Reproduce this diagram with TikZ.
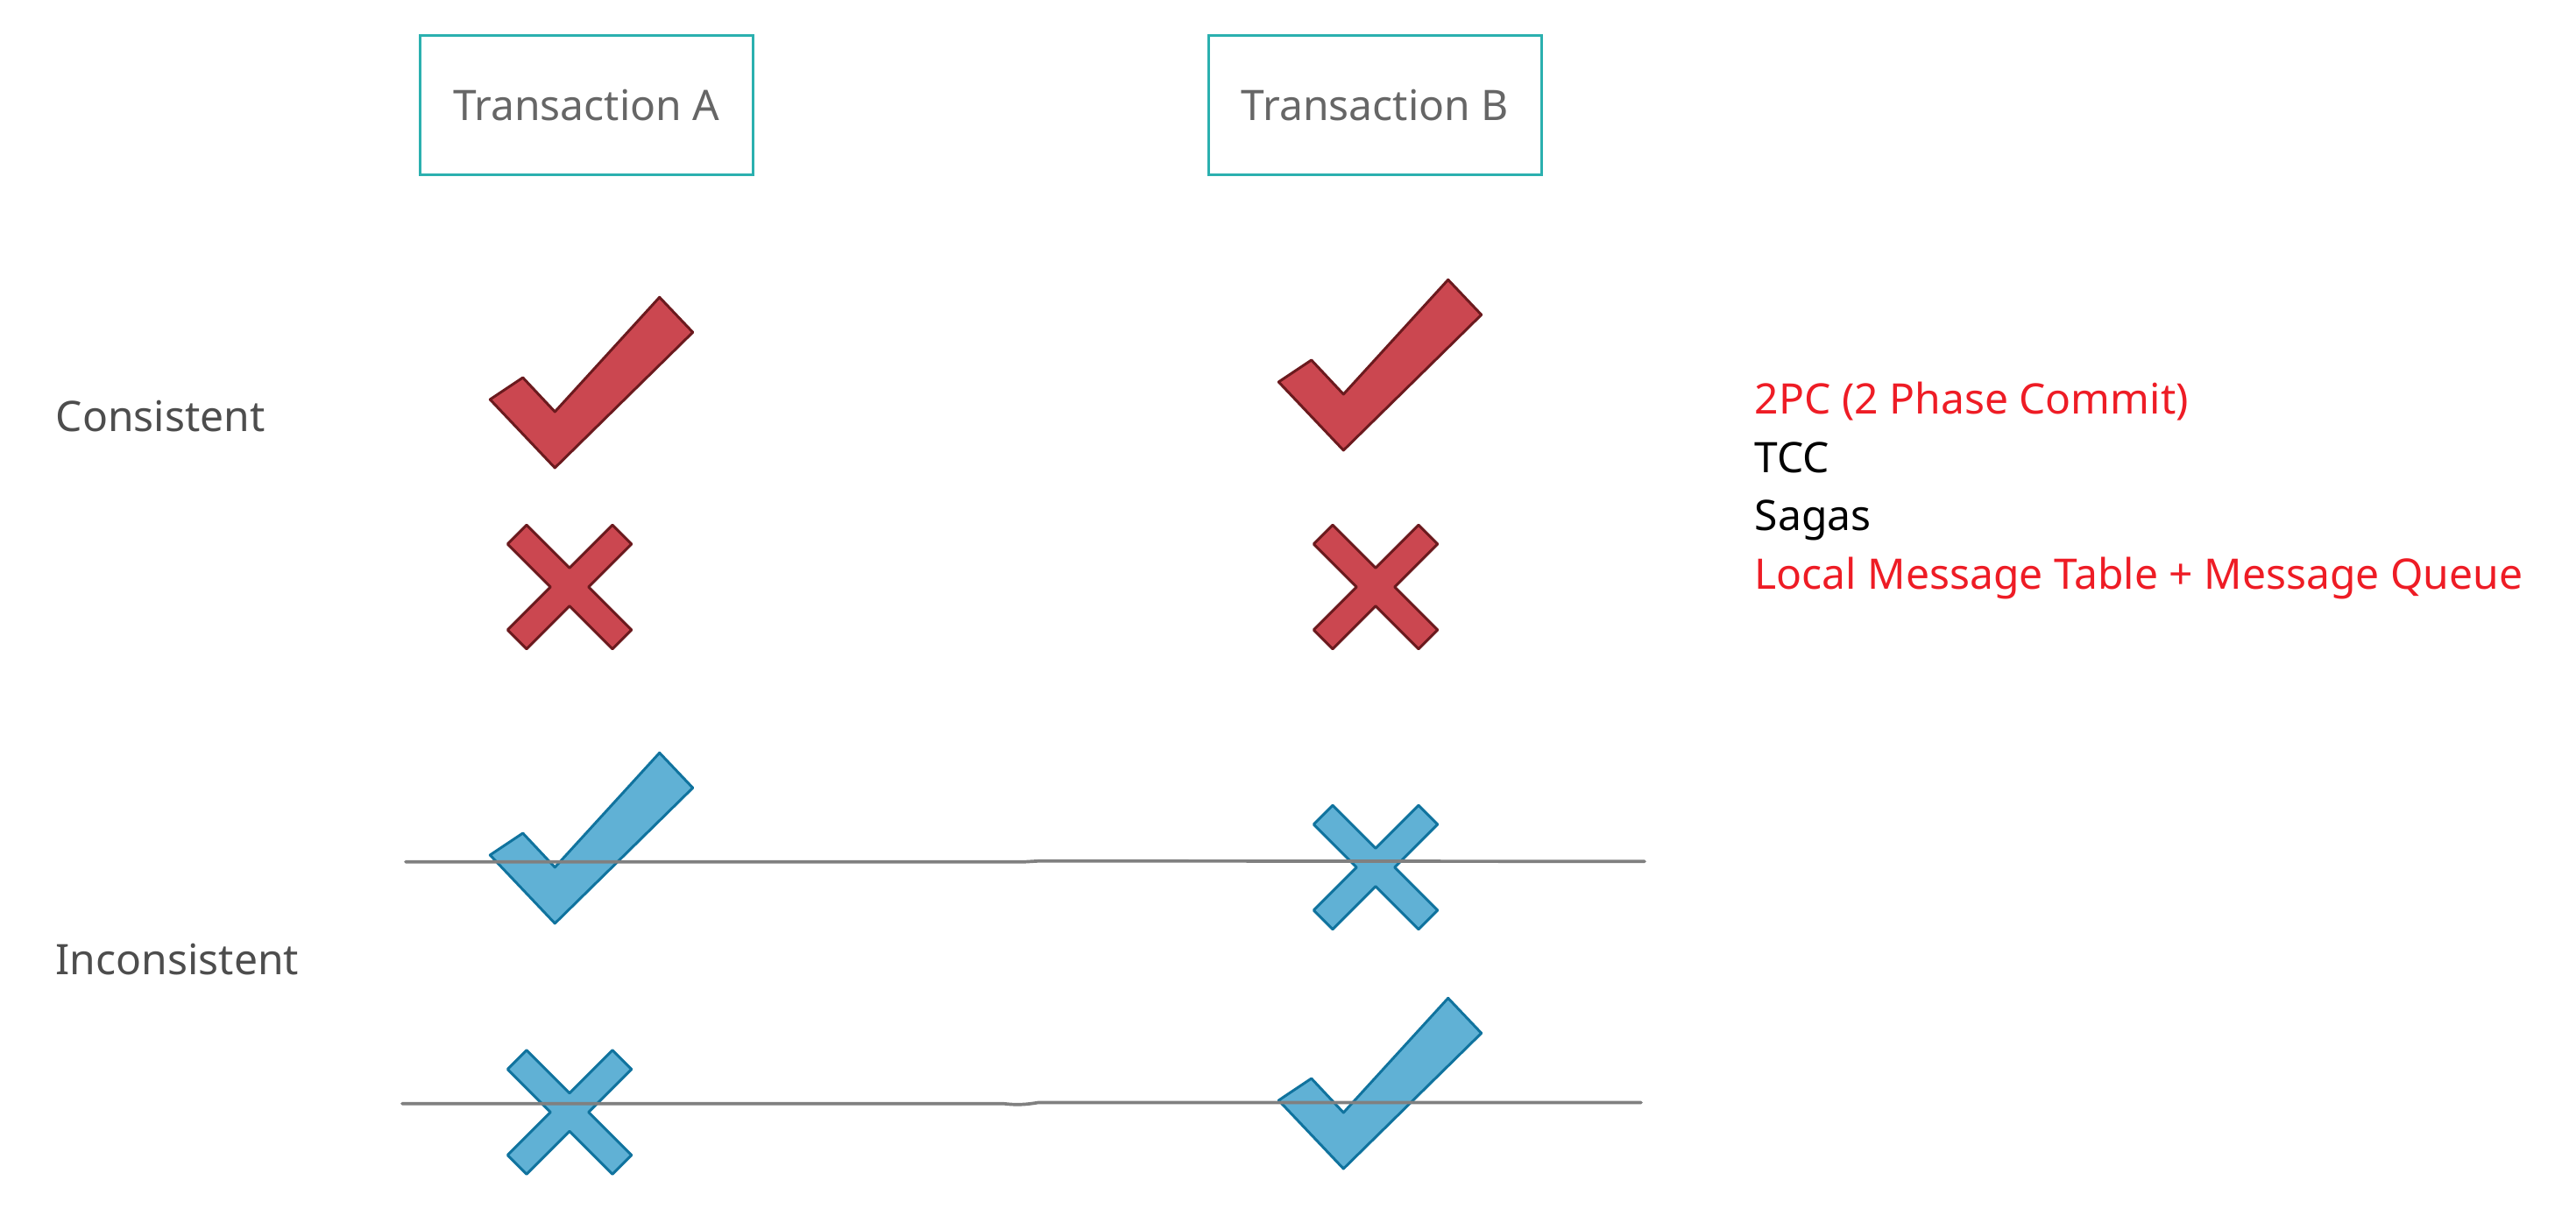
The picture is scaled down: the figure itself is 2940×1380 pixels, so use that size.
\documentclass[tikz,border=0pt]{standalone}
\usepackage{fontspec}
\setmainfont{Noto Sans}
\definecolor{boxteal}{HTML}{2BB0AF}
\definecolor{boxtext}{HTML}{666666}
\definecolor{labtext}{HTML}{4D4D4D}
\definecolor{redfill}{HTML}{CB4750}
\definecolor{redline}{HTML}{6B1A1E}
\definecolor{bluefill}{HTML}{60B1D5}
\definecolor{blueline}{HTML}{10739E}
\definecolor{strike}{HTML}{808080}
\definecolor{hot}{HTML}{EE1C25}
\tikzset{
  fs/.style={font=\fontsize{13.65}{18}\selectfont},
  txbox/.style={draw=boxteal, line width=0.85pt, minimum width=3.8cm, minimum height=1.59cm, inner sep=0pt, text=boxtext, fs},
  lab/.style={anchor=base west, inner sep=0pt, text=labtext, fs},
  item/.style={anchor=base west, inner sep=0pt, fs},
  redmark/.style={fill=redfill, draw=redline, line width=0.85pt, line join=round},
  bluemark/.style={fill=bluefill, draw=blueline, line width=0.85pt, line join=round},
  strikeline/.style={draw=strike, line width=1.05pt, line cap=round},
  chk/.pic={\path[pic actions] (0,0) -- (-74,-78) -- (-36.6,-103) -- (0,-64) -- (119.4,-194.7) -- (157.4,-154.7) -- cycle;},
  crs/.pic={\path[pic actions] (0,-21.7) -- (49,-70.7) -- (70.7,-49) -- (21.7,0) -- (70.7,49) -- (49,70.7) -- (0,21.7) -- (-49,70.7) -- (-70.7,49) -- (-21.7,0) -- (-70.7,-49) -- (-49,-70.7) -- cycle;}
}
\begin{document}
\begin{tikzpicture}[x=0.01cm, y=-0.01cm]
\useasboundingbox (0,0) rectangle (2940,1380);

% header boxes
\node[txbox] (ta) at (669.3,119.6) {Transaction A};
\node[txbox] (tb) at (1569.3,119.6) {Transaction B};

% row labels
\node[lab] (cons) at (63,492.7) {Consistent};
\node[lab] (incons) at (63,1112.7) {Inconsistent};

% method list
\node[item, text=hot] (m1) at (2002,472.5) {2PC (2 Phase Commit)};
\node[item, text=black] (m2) at (2002,539.4) {TCC};
\node[item, text=black] (m3) at (2002,606) {Sagas};
\node[item, text=hot] (m4) at (2002,672.8) {Local Message Table + Message Queue};

% consistent marks
\pic[redmark] at (633.3,534) {chk};
\pic[redmark] at (1533.3,514) {chk};
\pic[redmark] at (650,670) {crs};
\pic[redmark] at (1570,670) {crs};

% inconsistent marks
\pic[bluemark] at (633.3,1054) {chk};
\pic[bluemark] at (1570,990) {crs};
\pic[bluemark] at (650,1269.5) {crs};
\pic[bluemark] at (1533.3,1334) {chk};

% strike lines
\coordinate (s1a) at (463,983.7);
\coordinate (s1b) at (1877,983.3);
\coordinate (s2a) at (459,1259.7);
\coordinate (s2b) at (1873,1258.5);
\draw[strikeline] (s1a) -- (1170,983.7) -- (1187,982.7) -- (s1b);
\draw[strikeline] (s2a) -- (1145,1259.7) .. controls (1160,1261.5) and (1170,1261) .. (1185,1258.5) -- (s2b);
\end{tikzpicture}
\end{document}
